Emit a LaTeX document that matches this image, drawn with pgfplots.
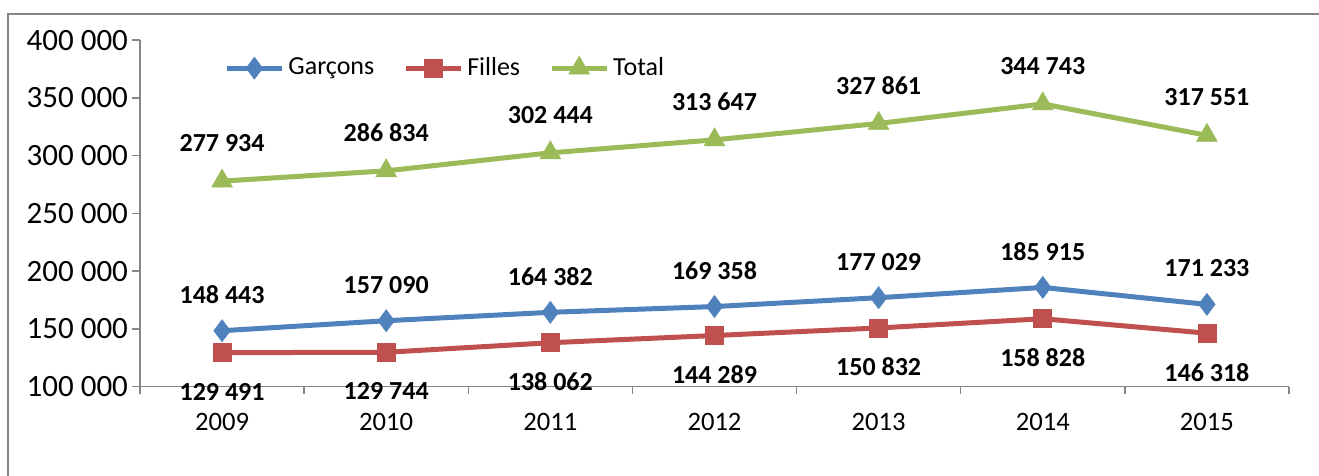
\documentclass[border=0pt]{standalone}
\usepackage{fontspec}
\setmainfont{Carlito}
\usepackage{pgfplots}
\pgfplotsset{compat=1.18}
\definecolor{cblue}{HTML}{4F81BD}
\definecolor{cred}{HTML}{C0504D}
\definecolor{cgreen}{HTML}{9BBB59}
\definecolor{axgray}{HTML}{868686}
\begin{document}
\fontsize{13}{15}\selectfont
\begin{tikzpicture}
\useasboundingbox (-70pt,-44.65pt) rectangle (589.5pt,193.35pt);
\draw[axgray, line width=0.75pt] (-66pt,-60pt) -- (-66pt,186.35pt) -- (600pt,186.35pt);
\begin{axis}[
  width=574.5pt, height=173.3pt, scale only axis,
  at={(0,0)}, anchor=south west,
  xmin=-0.5, xmax=6.5, ymin=100000, ymax=400000,
  axis lines*=left,
  axis line style={axgray, line width=0.75pt},
  clip=false,
  /pgf/number format/assume math mode=true,
  xtick={0,1,2,3,4,5,6},
  xticklabels={2009,2010,2011,2012,2013,2014,2015},
  major x tick style={draw=none},
  minor xtick={-0.5,0.5,1.5,2.5,3.5,4.5,5.5,6.5},
  ytick={100000,150000,200000,250000,300000,350000,400000},
  yticklabels={100 000,150 000,200 000,250 000,300 000,350 000,400 000},
  scaled y ticks=false,
  tick align=outside,
  major tick length=4pt, minor tick length=3.5pt,
  tick style={axgray, line width=0.75pt},
  xticklabel style={font=\fontsize{13.3}{16}\selectfont, text=black, yshift=-4.5pt},
  yticklabel style={font=\fontsize{15.5}{18}\selectfont, text=black, xshift=2.5pt},
  legend style={at={(rel axis cs:0.0731,0.919)}, anchor=west, draw=none, fill=none,
    inner sep=0pt, font=\fontsize{13}{15}\selectfont,
    /tikz/every odd column/.append style={column sep=0pt},
    /tikz/every even column/.append style={column sep=12.5pt}},
  legend columns=3,
  legend cell align=left,
  legend image code/.code={\draw[mark repeat=2,mark phase=2] plot coordinates {(0pt,0pt) (13.75pt,0pt) (27.5pt,0pt)};},
  nodes near coords={\pgfmathprintnumber[fixed,precision=0,1000 sep={\ },assume math mode=true]{\pgfplotspointmeta}},
  nodes near coords style={font=\fontsize{13}{15}\selectfont\bfseries, text=black, anchor=center},
]
\addplot[cblue, line width=2.5pt, mark=diamond*, mark size=5.5pt, mark options={line width=0.3pt},
  nodes near coords style={yshift=18pt}]
  coordinates {(0,148443) (1,157090) (2,164382) (3,169358) (4,177029) (5,185915) (6,171233)};
\addlegendentry{Garçons}
\addplot[cred, line width=2.5pt, mark=square*, mark size=4.5pt, mark options={line width=0.3pt},
  nodes near coords style={yshift=-19.5pt}]
  coordinates {(0,129491) (1,129744) (2,138062) (3,144289) (4,150832) (5,158828) (6,146318)};
\addlegendentry{Filles}
\addplot[cgreen, line width=2.5pt, mark=triangle*, mark size=6pt, mark options={line width=0.3pt},
  nodes near coords style={yshift=19pt}]
  coordinates {(0,277934) (1,286834) (2,302444) (3,313647) (4,327861) (5,344743) (6,317551)};
\addlegendentry{Total}
\end{axis}
\end{tikzpicture}
\end{document}
